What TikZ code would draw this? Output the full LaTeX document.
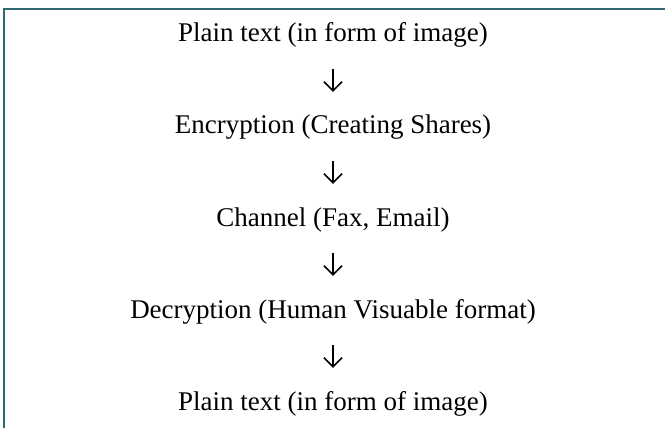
\documentclass[tikz,border=0pt]{standalone}
\usepackage{fontspec}
\setmainfont{Liberation Serif}
\usetikzlibrary{arrows.meta}
\definecolor{frameteal}{RGB}{47,104,110}
\tikzset{
  stage/.style={inner sep=0pt, anchor=base, text height=18pt, text depth=6pt,
    font=\fontsize{27}{30}\selectfont},
  flow/.style={line width=1.5pt, shorten <=21pt, shorten >=24pt,
    -{Straight Barb[length=9pt,width=18pt,line width=1.5pt]}},
  frameline/.style={draw=frameteal, line width=2pt}
}
\begin{document}
\begin{tikzpicture}[x=1pt,y=-1pt]
\useasboundingbox (0,0) rectangle (665,428);
\draw[frameline] (3.5,428) -- (3.5,9) -- (665,9);
\node[stage] (t1) at (333,42)  {Plain text (in form of image)};
\node[stage] (t2) at (333,134) {Encryption (Creating Shares)};
\node[stage] (t3) at (333,226) {Channel (Fax, Email)};
\node[stage] (t4) at (333,318) {Decryption (Human Visuable format)};
\node[stage] (t5) at (333,410) {Plain text (in form of image)};
\draw[flow] (t1) -- (t2);
\draw[flow] (t2) -- (t3);
\draw[flow] (t3) -- (t4);
\draw[flow] (t4) -- (t5);
\end{tikzpicture}
\end{document}
